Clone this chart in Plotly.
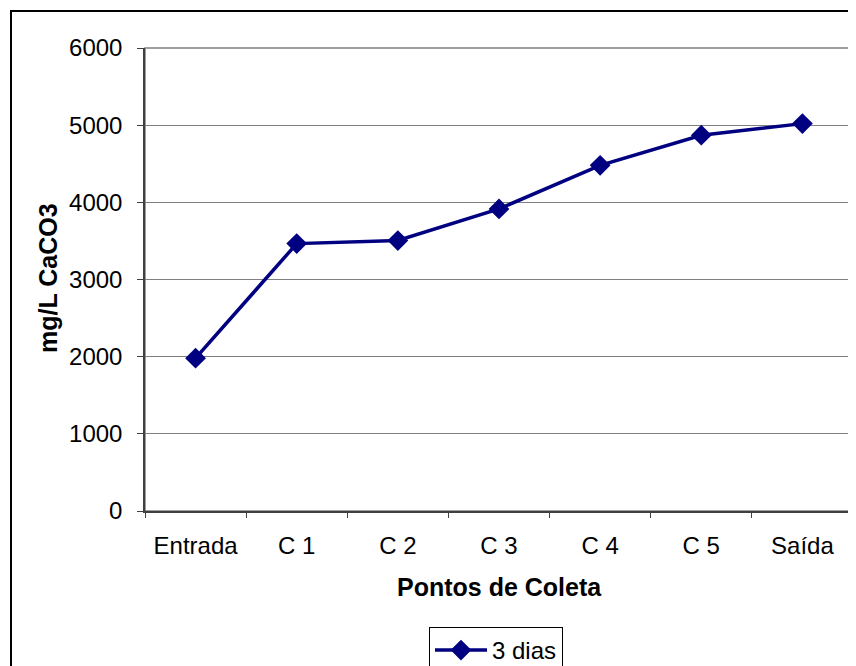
import plotly.graph_objects as go

categories = ["Entrada", "C 1", "C 2", "C 3", "C 4", "C 5", "Saída"]
values_3dias = [1980, 3465, 3505, 3915, 4480, 4870, 5020]
series_name = "3 dias"
y_ticks = [0, 1000, 2000, 3000, 4000, 5000, 6000]

FONT = "Arial, Liberation Sans, sans-serif"
OFF = 8  # page body margin
W, H = 856 - OFF, 666 - OFF
L, R, T, B = 145 - OFF, 3, 48 - OFF, 155
pw, ph = W - L - R, H - T - B

def px(x):
    return (x - OFF - L) / pw

def py(y):
    return (H - B - (y - OFF)) / ph

fig = go.Figure()
fig.add_trace(go.Scatter(
    x=categories, y=values_3dias, name=series_name, mode="lines+markers",
    line=dict(color="#000080", width=3.5),
    marker=dict(symbol="diamond", size=16, color="#000080"),
))

fig.update_layout(
    width=W, height=H,
    margin=dict(l=L, r=R, t=T, b=B, autoexpand=False),
    paper_bgcolor="white", plot_bgcolor="white",
    font=dict(family=FONT, size=24, color="black"),
    showlegend=True,
    legend=dict(
        x=px(429), y=py(627), xanchor="left", yanchor="top",
        bordercolor="black", borderwidth=1, bgcolor="white",
        font=dict(size=24), itemwidth=52,
    ),
    xaxis=dict(
        type="category", range=[-0.5, 6.5],
        showgrid=False, showline=True, linecolor="#404040", linewidth=1.5,
        ticks="outside", tickson="boundaries", ticklen=5, tickcolor="#404040",
        ticklabelstandoff=12, zeroline=False,
    ),
    yaxis=dict(
        range=[0, 6000], tickvals=y_ticks,
        showgrid=True, gridcolor="#808080", gridwidth=1,
        showline=True, linecolor="#404040", linewidth=1.5,
        ticks="outside", ticklen=6, tickcolor="#404040",
        ticklabelstandoff=10, zeroline=False,
    ),
    shapes=[
        dict(type="rect", xref="paper", yref="paper", x0=0, x1=1, y0=0, y1=1,
             line=dict(color="#808080", width=1.5), layer="below"),
        dict(type="rect", xref="paper", yref="paper",
             x0=px(11), x1=px(860), y0=py(11), y1=py(672),
             line=dict(color="black", width=2)),
    ],
    annotations=[
        dict(text="<b>Pontos de Coleta</b>", xref="paper", yref="paper",
             x=px(499), y=py(587), xanchor="center", yanchor="middle",
             showarrow=False, font=dict(size=25)),
        dict(text="<b>mg/L CaCO3</b>", xref="paper", yref="paper",
             x=px(48), y=py(278), xanchor="center", yanchor="middle",
             textangle=-90, showarrow=False, font=dict(size=25)),
    ],
)

fig.write_html("out.html")
